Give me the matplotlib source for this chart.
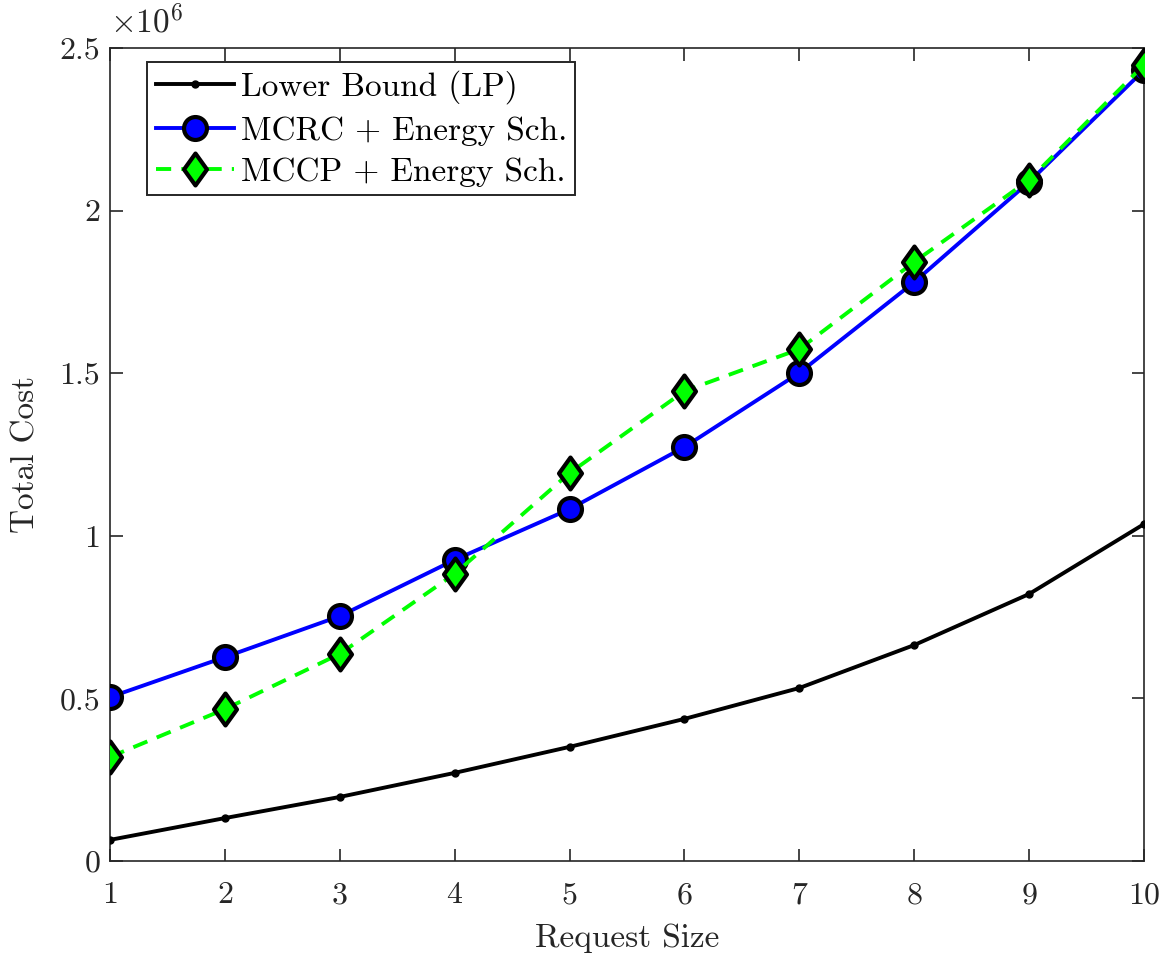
import matplotlib
matplotlib.use("Agg")
import matplotlib.pyplot as plt
from matplotlib.path import Path

plt.rcParams["font.family"] = "serif"
plt.rcParams["font.serif"] = ["cmr10"]
plt.rcParams["mathtext.fontset"] = "cm"
plt.rcParams["axes.formatter.use_mathtext"] = True

# Request sizes and total cost (in units of 1e6)
request_size = [1, 2, 3, 4, 5, 6, 7, 8, 9, 10]
lower_bound = [0.065, 0.132, 0.197, 0.271, 0.351, 0.437, 0.532, 0.664, 0.821, 1.036]
mcrc_energy = [0.504, 0.627, 0.753, 0.926, 1.082, 1.273, 1.501, 1.780, 2.088, 2.432]
mccp_energy = [0.320, 0.467, 0.637, 0.883, 1.193, 1.445, 1.574, 1.842, 2.094, 2.448]

series_labels = ["Lower Bound (LP)", "MCRC + Energy Sch.", "MCCP + Energy Sch."]
x_ticks = [1, 2, 3, 4, 5, 6, 7, 8, 9, 10]
y_ticks = [0, 0.5, 1.0, 1.5, 2.0, 2.5]
y_tick_labels = ["0", "0.5", "1", "1.5", "2", "2.5"]

diamond = Path([(0, -1), (0.72, 0), (0, 1), (-0.72, 0), (0, -1)],
               [Path.MOVETO, Path.LINETO, Path.LINETO, Path.LINETO, Path.CLOSEPOLY])

fig = plt.figure(figsize=(11.74, 9.6), dpi=100)
ax = fig.add_axes([0.0937, 0.1031, 0.8807, 0.8469])

ax.plot(request_size, lower_bound, color="black", lw=2.8, marker="o",
        markersize=5, label=series_labels[0], zorder=3)
ax.plot(request_size, mcrc_energy, color=(0, 0, 1), lw=2.8, marker="o",
        markersize=16.5, markerfacecolor=(0, 0, 1), markeredgecolor="black",
        markeredgewidth=3.0, label=series_labels[1], zorder=4)
ax.plot(request_size, mccp_energy, color=(0, 1, 0), lw=2.8, linestyle=(0, (3.9, 2.6)),
        marker=diamond, markersize=23, markerfacecolor=(0, 1, 0),
        markeredgecolor="black", markeredgewidth=3.0, label=series_labels[2], zorder=5)

ax.set_xlim(1, 10)
ax.set_ylim(0, 2.5)
ax.set_xticks(x_ticks)
ax.set_yticks(y_ticks)
ax.set_yticklabels(y_tick_labels)

edge = (0.15, 0.15, 0.15)
for sp in ax.spines.values():
    sp.set_color(edge)
    sp.set_linewidth(1.2)
ax.tick_params(direction="in", length=9, width=1.2, colors=edge, labelsize=23,
               top=True, right=True)
ax.tick_params(axis="x", pad=15)
ax.tick_params(axis="y", pad=7)
for lbl in ax.get_xticklabels() + ax.get_yticklabels():
    lbl.set_color(edge)

ax.set_xlabel("Request Size", fontsize=24, color=edge, labelpad=10)
ax.set_ylabel("Total Cost", fontsize=24, color=edge, labelpad=14)

ax.text(0.0, 1.012, r"$\times10^6$", transform=ax.transAxes, fontsize=24,
        color=edge, ha="left", va="bottom")

leg = ax.legend(loc="upper left", bbox_to_anchor=(0.036, 0.983), fontsize=24,
                frameon=True, fancybox=False, borderpad=0.25, labelspacing=0.36,
                handlelength=2.35, handletextpad=0.2, borderaxespad=0.0)
leg.get_frame().set_edgecolor(edge)
leg.get_frame().set_linewidth(1.4)
leg.get_frame().set_alpha(1.0)
for t in leg.get_texts():
    t.set_color("black")

fig.savefig("out.png", dpi=100, facecolor="white")
